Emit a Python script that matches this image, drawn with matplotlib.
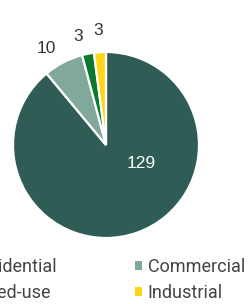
import matplotlib
matplotlib.use("Agg")
import matplotlib.pyplot as plt
from matplotlib.patches import Patch

categories = ["Residential", "Commercial", "Mixed-use", "Industrial"]
values = [129, 10, 3, 3]
colors = ["#2f5c54", "#80a89b", "#0b7a2e", "#ffd619"]
legend_order = ["Residential", "Mixed-use", "Commercial", "Industrial"]
label_pos = [(0.376, -0.204), (-0.64, 1.043), (-0.296, 1.172), (-0.081, 1.231)]

W, H = 251, 304
fig = plt.figure(figsize=(W / 100, H / 100), dpi=100)
cx, cy, r = 106, 145, 93
ax = fig.add_axes([(cx - r) / W, (H - cy - r) / H, 2 * r / W, 2 * r / H])
ax.set_aspect("equal")
ax.axis("off")

wedges, texts = ax.pie(values, colors=colors, startangle=90, counterclock=False,
                       labels=[str(v) for v in values], labeldistance=1.2,
                       wedgeprops=dict(edgecolor="white", linewidth=1.6),
                       textprops=dict(fontsize=12.5, color="#333333",
                                      family=["Liberation Sans", "DejaVu Sans"]))
ax.set_xlim(-1, 1)
ax.set_ylim(-1, 1)
for t, p in zip(texts, label_pos):
    t.set_ha("center")
    t.set_va("center")
    t.set_position(p)
texts[0].set_color("white")

handles = [Patch(facecolor=colors[categories.index(c)], edgecolor="none") for c in legend_order]
leg = fig.legend(handles, legend_order, loc="center", ncol=2,
                 bbox_to_anchor=((cx - 5.5) / W, 1 - 280 / H),
                 frameon=False, handlelength=0.35, handleheight=0.35,
                 handletextpad=0.35, columnspacing=4.32, labelspacing=0.45,
                 prop=dict(family="Roboto", size=13))
for t in leg.get_texts():
    t.set_color("#444444")

fig.savefig("out.png", dpi=100)
